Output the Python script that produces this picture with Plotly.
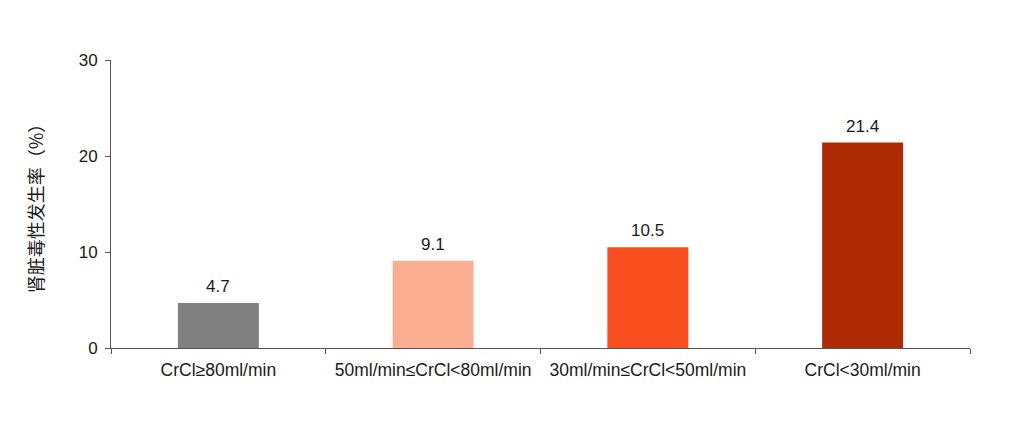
import plotly.graph_objects as go

categories = ["CrCl≥80ml/min", "50ml/min≤CrCl<80ml/min", "30ml/min≤CrCl<50ml/min", "CrCl<30ml/min"]
values = [4.7, 9.1, 10.5, 21.4]
bar_colors = ["#808080", "#FCAE93", "#FA4F1F", "#AE2B05"]
y_ticks = [0, 10, 20, 30]

fig = go.Figure(go.Bar(
    x=categories,
    y=values,
    marker=dict(color=bar_colors, line=dict(width=0)),
    width=0.377,
    cliponaxis=False,
))

for c, v in zip(categories, values):
    fig.add_annotation(
        x=c, y=v, text=f"{v:.1f}", showarrow=False,
        yanchor="bottom", yshift=5,
        font=dict(size=17, color="#1a1a1a", family="Liberation Sans, Arial"),
    )

fig.update_layout(
    width=1025, height=424,
    margin=dict(l=103, r=63, t=52, b=84, autoexpand=False),
    plot_bgcolor="white", paper_bgcolor="white",
    showlegend=False,
    font=dict(family="Liberation Sans, Arial, Noto Sans CJK SC", size=17, color="#1a1a1a"),
    xaxis=dict(
        type="category",
        range=[-0.5, 3.5],
        showline=True, linecolor="#555555", linewidth=1,
        ticks="outside", tickson="boundaries", ticklen=5, tickcolor="#555555",
        showgrid=False, zeroline=False,
        tickfont=dict(size=17.5),
        ticklabelstandoff=6,
        automargin=False,
    ),
    yaxis=dict(
        range=[0, 30],
        tickvals=y_ticks,
        showline=True, linecolor="#555555", linewidth=1,
        ticks="outside", ticklen=5, tickcolor="#555555",
        showgrid=False, zeroline=False,
        tickfont=dict(size=17),
        ticklabelstandoff=4,
        automargin=False,
        title=dict(text="肾脏毒性发生率（%）", font=dict(size=18, family="Noto Sans CJK SC"), standoff=30),
    ),
)

fig.write_html("out.html")
